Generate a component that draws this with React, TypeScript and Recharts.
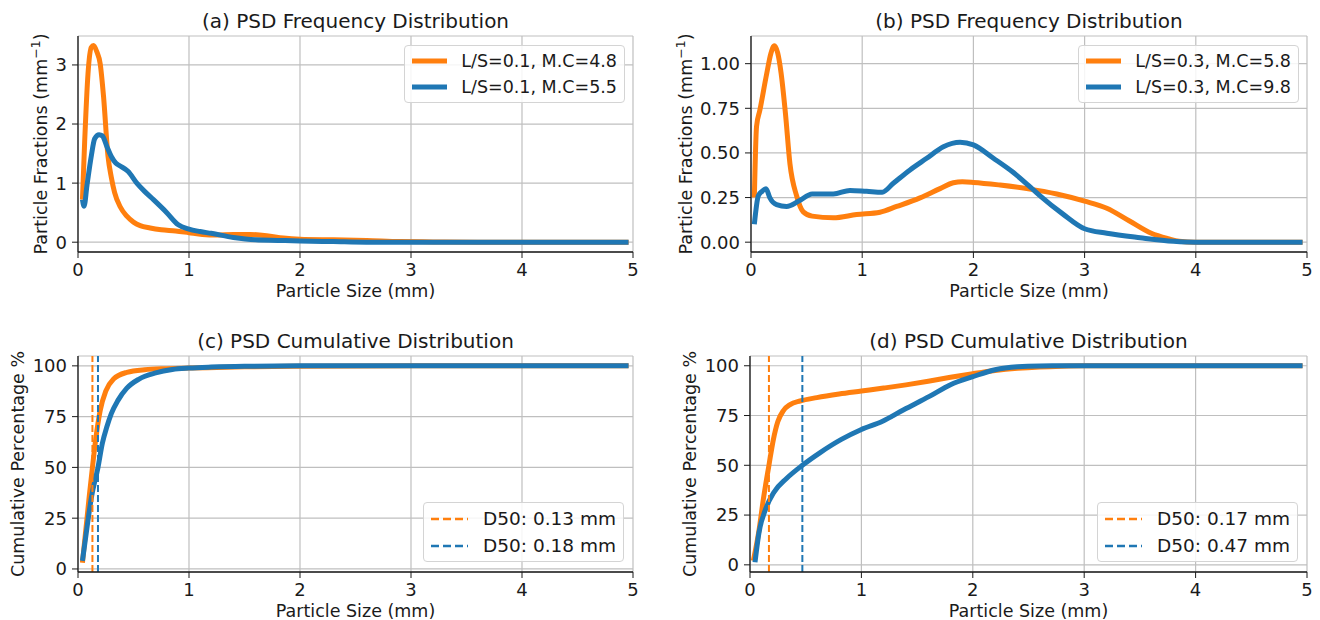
import React from "react"
import { LineChart, Line, XAxis, YAxis, CartesianGrid, ReferenceLine } from "recharts"

const ORANGE = "#ff7f0e"
const BLUE = "#1f77b4"
const INK = "#1a1a1a"
const FONT = "DejaVu Sans, Verdana, sans-serif"

const sizeTicks = [0, 1, 2, 3, 4, 5]
const fracTicksA = [0, 1, 2, 3]
const fracTicksB = [0, 0.25, 0.5, 0.75, 1.0]
const cumTicks = [0, 25, 50, 75, 100]

// (a) frequency distribution, L/S = 0.1
const sizeA48 = [0.04, 0.06, 0.09, 0.12, 0.14, 0.17, 0.2, 0.23, 0.27, 0.3, 0.33, 0.38, 0.44, 0.5, 0.56, 0.65, 0.75, 0.88, 1.0, 1.12, 1.25, 1.4, 1.55, 1.7, 1.85, 2.0, 2.3, 2.6, 2.9, 3.2, 3.6, 4.0, 4.5, 4.96]
const fracA48 = [0.72, 1.7, 2.85, 3.3, 3.33, 3.22, 3.02, 2.47, 1.46, 1.1, 0.84, 0.6, 0.44, 0.34, 0.28, 0.24, 0.21, 0.19, 0.16, 0.13, 0.12, 0.13, 0.13, 0.11, 0.07, 0.05, 0.04, 0.03, 0.01, 0.005, 0, 0, 0, 0]
const sizeA55 = [0.04, 0.055, 0.08, 0.12, 0.15, 0.19, 0.22, 0.26, 0.3, 0.34, 0.38, 0.45, 0.53, 0.6, 0.68, 0.8, 0.9, 1.0, 1.1, 1.2, 1.4, 1.6, 1.8, 2.0, 2.3, 2.6, 3.0, 3.5, 4.0, 4.5, 4.96]
const fracA55 = [0.72, 0.61, 0.95, 1.46, 1.75, 1.82, 1.8, 1.62, 1.45, 1.34, 1.29, 1.2, 1.0, 0.86, 0.72, 0.5, 0.3, 0.22, 0.18, 0.15, 0.08, 0.04, 0.03, 0.02, 0.01, 0, 0, 0, 0, 0, 0]

// (b) frequency distribution, L/S = 0.3
const sizeB58 = [0.03, 0.05, 0.08, 0.14, 0.18, 0.21, 0.24, 0.27, 0.31, 0.35, 0.41, 0.47, 0.55, 0.74, 0.95, 1.16, 1.31, 1.52, 1.7, 1.82, 1.9, 2.0, 2.24, 2.48, 2.75, 3.0, 3.2, 3.4, 3.6, 3.75, 3.85, 4.0, 4.5, 4.96]
const fracB58 = [0.25, 0.65, 0.74, 0.94, 1.06, 1.1, 1.06, 0.95, 0.72, 0.44, 0.26, 0.17, 0.146, 0.137, 0.155, 0.168, 0.2, 0.248, 0.3, 0.333, 0.338, 0.335, 0.32, 0.3, 0.27, 0.23, 0.19, 0.12, 0.05, 0.02, 0.005, 0, 0, 0]
const sizeB98 = [0.03, 0.066, 0.1, 0.135, 0.17, 0.23, 0.32, 0.43, 0.55, 0.74, 0.89, 1.04, 1.18, 1.28, 1.43, 1.58, 1.73, 1.88, 2.0, 2.18, 2.36, 2.51, 2.6, 2.8, 3.0, 3.2, 3.5, 3.8, 4.0, 4.5, 4.96]
const fracB98 = [0.1, 0.26, 0.285, 0.3, 0.248, 0.21, 0.2, 0.23, 0.27, 0.27, 0.29, 0.285, 0.28, 0.33, 0.405, 0.47, 0.535, 0.56, 0.545, 0.47, 0.39, 0.31, 0.26, 0.16, 0.075, 0.05, 0.025, 0.005, 0, 0, 0]

// (c) cumulative, L/S = 0.1
const sizeC48 = [0.04, 0.07, 0.1, 0.13, 0.16, 0.2, 0.25, 0.32, 0.44, 0.6, 0.8, 1.0, 1.25, 1.5, 2.0, 2.5, 3.0, 3.5, 4.0, 4.5, 4.96]
const cumC48 = [3, 19, 35, 50, 64, 78, 87.5, 93.5, 96.8, 98.1, 98.6, 98.9, 99.2, 99.5, 99.8, 99.95, 100, 100, 100, 100, 100]
const sizeC55 = [0.04, 0.08, 0.12, 0.18, 0.22, 0.26, 0.3, 0.36, 0.44, 0.55, 0.7, 0.85, 1.0, 1.2, 1.5, 2.0, 2.5, 3.0, 3.5, 4.0, 4.5, 4.96]
const cumC55 = [4, 20, 35, 50, 62, 70, 76.5, 83, 89, 93.5, 96.5, 98.2, 98.9, 99.4, 99.8, 100, 100, 100, 100, 100, 100, 100]

// (d) cumulative, L/S = 0.3
const sizeD58 = [0.03, 0.08, 0.12, 0.17, 0.21, 0.25, 0.3, 0.36, 0.45, 0.6, 0.8, 1.0, 1.2, 1.4, 1.6, 1.8, 2.0, 2.2, 2.4, 2.6, 2.8, 3.0, 3.5, 4.0, 4.5, 4.96]
const cumD58 = [2, 17, 33, 50, 63, 72, 77.5, 80.5, 82.3, 84, 85.8, 87.3, 88.8, 90.4, 92.2, 94.2, 96, 97.6, 98.7, 99.4, 99.8, 100, 100, 100, 100, 100]
const sizeD98 = [0.045, 0.08, 0.14, 0.215, 0.33, 0.47, 0.63, 0.82, 1.0, 1.19, 1.38, 1.61, 1.8, 2.0, 2.2, 2.4, 2.6, 3.0, 3.5, 4.0, 4.5, 4.96]
const cumD98 = [1.3, 16, 28, 36.5, 43.5, 50, 56.4, 63, 68, 72.1, 77.9, 84.6, 90.5, 94.5, 98, 99.5, 99.9, 100, 100, 100, 100, 100]

const d50C = [0.13, 0.18]
const d50D = [0.17, 0.47]

const zip = (xs: number[], ys: number[]) => xs.map((x, i) => ({ size: x, value: ys[i] }))

const W = 660
const H = 310
const PLOT_TOP = 36
const PLOT_BOTTOM = 252
const TICK_FONT = 18
const LABEL_FONT = 17.5
const TITLE_FONT = 20

type Series = { name: string; color: string; data: { size: number; value: number }[] }
type LegendItem = { label: string; color: string; dashed?: boolean }

interface PanelProps {
  left: number
  top: number
  yAxisWidth: number
  rightMargin: number
  title: string
  yLabel: React.ReactNode
  yLabelX: number
  yDomain: [number, number]
  yTicks: number[]
  yFormat: (v: number) => string
  series: Series[]
  d50?: number[]
  legend: LegendItem[]
  legendFont: number
  legendAtBottom?: boolean
}

function LegendBox({ items, font, style }: { items: LegendItem[]; font: number; style: React.CSSProperties }) {
  const handle = Math.round(font * 2)
  return (
    <div
      style={{
        position: "absolute",
        border: "1px solid #d4d4d4",
        borderRadius: 4,
        background: "rgba(255,255,255,0.85)",
        padding: "6px 7px",
        fontFamily: FONT,
        fontSize: font,
        lineHeight: `${Math.round(font)}px`,
        color: INK,
        ...style,
      }}
    >
      {items.map((it, i) => (
        <div key={it.label} style={{ display: "flex", alignItems: "center", marginTop: i ? 8 : 0 }}>
          <svg width={handle} height={10} style={{ marginRight: Math.round(font * 0.8) }}>
            <line
              x1={0}
              x2={handle}
              y1={5}
              y2={5}
              stroke={it.color}
              strokeWidth={it.dashed ? 2.5 : 5}
              strokeDasharray={it.dashed ? "8 4" : undefined}
            />
          </svg>
          <span style={{ whiteSpace: "nowrap" }}>{it.label}</span>
        </div>
      ))}
    </div>
  )
}

function Panel(p: PanelProps) {
  const plotLeft = p.yAxisWidth
  const plotRight = W - p.rightMargin
  const cx = (plotLeft + plotRight) / 2
  const cy = (PLOT_TOP + PLOT_BOTTOM) / 2
  const tick = { fill: INK, fontSize: TICK_FONT, fontFamily: FONT }
  const spine = { stroke: INK, strokeWidth: 1.3 }
  const legendPos: React.CSSProperties = p.legendAtBottom
    ? { right: p.rightMargin + 9, bottom: H - PLOT_BOTTOM + 10 }
    : { right: p.rightMargin + 8, top: PLOT_TOP + 9 }

  return (
    <div style={{ position: "absolute", left: p.left, top: p.top, width: W, height: H }}>
      <LineChart
        width={W}
        height={H}
        margin={{ top: PLOT_TOP, right: p.rightMargin, bottom: H - PLOT_BOTTOM - 30, left: 0 }}
      >
        <CartesianGrid stroke="#bfbfbf" strokeWidth={1.2} />
        <XAxis
          dataKey="size"
          type="number"
          domain={[0, 5]}
          ticks={sizeTicks}
          height={30}
          allowDataOverflow
          tick={tick}
          tickSize={6}
          tickMargin={5}
          axisLine={spine}
          tickLine={{ stroke: INK }}
        />
        <XAxis
          xAxisId="top"
          orientation="top"
          type="number"
          domain={[0, 5]}
          height={0}
          tick={false}
          tickLine={false}
          axisLine={spine}
        />
        <YAxis
          type="number"
          domain={p.yDomain}
          ticks={p.yTicks}
          width={p.yAxisWidth}
          allowDataOverflow
          tickFormatter={p.yFormat}
          tick={tick}
          tickSize={6}
          tickMargin={5}
          axisLine={spine}
          tickLine={{ stroke: INK }}
        />
        <YAxis
          yAxisId="right"
          orientation="right"
          type="number"
          domain={p.yDomain}
          width={0}
          tick={false}
          tickLine={false}
          axisLine={spine}
        />
        {p.series.map((s) => (
          <Line
            key={s.name}
            data={s.data}
            dataKey="value"
            name={s.name}
            type="monotone"
            stroke={s.color}
            strokeWidth={5}
            dot={false}
            activeDot={false}
            legendType="none"
            isAnimationActive={false}
          />
        ))}
        {(p.d50 || []).map((v, i) => (
          <ReferenceLine
            key={i}
            x={v}
            stroke={i === 0 ? ORANGE : BLUE}
            strokeWidth={2}
            strokeDasharray="7 3"
          />
        ))}
      </LineChart>
      <svg
        width={W}
        height={H}
        style={{ position: "absolute", left: 0, top: 0, pointerEvents: "none" }}
        fontFamily={FONT}
        fill={INK}
      >
        <text x={cx} y={28} textAnchor="middle" fontSize={TITLE_FONT}>
          {p.title}
        </text>
        <text x={cx} y={297} textAnchor="middle" fontSize={LABEL_FONT}>
          Particle Size (mm)
        </text>
        <text
          x={p.yLabelX}
          y={cy}
          textAnchor="middle"
          fontSize={LABEL_FONT}
          transform={`rotate(-90 ${p.yLabelX} ${cy})`}
        >
          {p.yLabel}
        </text>
      </svg>
      <LegendBox items={p.legend} font={p.legendFont} style={legendPos} />
    </div>
  )
}

const fracLabel = (
  <>
    Particle Fractions (mm
    <tspan dy={-7} fontSize={12.5}>
      −1
    </tspan>
    <tspan dy={7}>)</tspan>
  </>
)

export default function App() {
  const fmtInt = (v: number) => String(v)
  const fmt2 = (v: number) => v.toFixed(2)
  return (
    <div style={{ position: "absolute", left: 0, top: 0, width: 1320, height: 620, background: "#fff", overflow: "hidden" }}>
      <Panel
        left={0}
        top={0}
        yAxisWidth={78}
        rightMargin={27}
        title="(a) PSD Frequency Distribution"
        yLabel={fracLabel}
        yLabelX={47}
        yDomain={[-0.166, 3.49]}
        yTicks={fracTicksA}
        yFormat={fmtInt}
        series={[
          { name: "L/S=0.1, M.C=4.8", color: ORANGE, data: zip(sizeA48, fracA48) },
          { name: "L/S=0.1, M.C=5.5", color: BLUE, data: zip(sizeA55, fracA55) },
        ]}
        legendFont={17.5}
        legend={[
          { label: "L/S=0.1, M.C=4.8", color: ORANGE },
          { label: "L/S=0.1, M.C=5.5", color: BLUE },
        ]}
      />
      <Panel
        left={660}
        top={0}
        yAxisWidth={91}
        rightMargin={13}
        title="(b) PSD Frequency Distribution"
        yLabel={fracLabel}
        yLabelX={32}
        yDomain={[-0.055, 1.155]}
        yTicks={fracTicksB}
        yFormat={fmt2}
        series={[
          { name: "L/S=0.3, M.C=5.8", color: ORANGE, data: zip(sizeB58, fracB58) },
          { name: "L/S=0.3, M.C=9.8", color: BLUE, data: zip(sizeB98, fracB98) },
        ]}
        legendFont={17.5}
        legend={[
          { label: "L/S=0.3, M.C=5.8", color: ORANGE },
          { label: "L/S=0.3, M.C=9.8", color: BLUE },
        ]}
      />
      <Panel
        left={0}
        top={320}
        yAxisWidth={78}
        rightMargin={27}
        title="(c) PSD Cumulative Distribution"
        yLabel="Cumulative Percentage %"
        yLabelX={24}
        yDomain={[-1.5, 104.85]}
        yTicks={cumTicks}
        yFormat={fmtInt}
        series={[
          { name: "c-4.8", color: ORANGE, data: zip(sizeC48, cumC48) },
          { name: "c-5.5", color: BLUE, data: zip(sizeC55, cumC55) },
        ]}
        d50={d50C}
        legendAtBottom
        legendFont={18.5}
        legend={[
          { label: `D50: ${d50C[0].toFixed(2)} mm`, color: ORANGE, dashed: true },
          { label: `D50: ${d50C[1].toFixed(2)} mm`, color: BLUE, dashed: true },
        ]}
      />
      <Panel
        left={660}
        top={320}
        yAxisWidth={90}
        rightMargin={13}
        title="(d) PSD Cumulative Distribution"
        yLabel="Cumulative Percentage %"
        yLabelX={36}
        yDomain={[-3.6, 104.9]}
        yTicks={cumTicks}
        yFormat={fmtInt}
        series={[
          { name: "d-5.8", color: ORANGE, data: zip(sizeD58, cumD58) },
          { name: "d-9.8", color: BLUE, data: zip(sizeD98, cumD98) },
        ]}
        d50={d50D}
        legendAtBottom
        legendFont={18.5}
        legend={[
          { label: `D50: ${d50D[0].toFixed(2)} mm`, color: ORANGE, dashed: true },
          { label: `D50: ${d50D[1].toFixed(2)} mm`, color: BLUE, dashed: true },
        ]}
      />
    </div>
  )
}
